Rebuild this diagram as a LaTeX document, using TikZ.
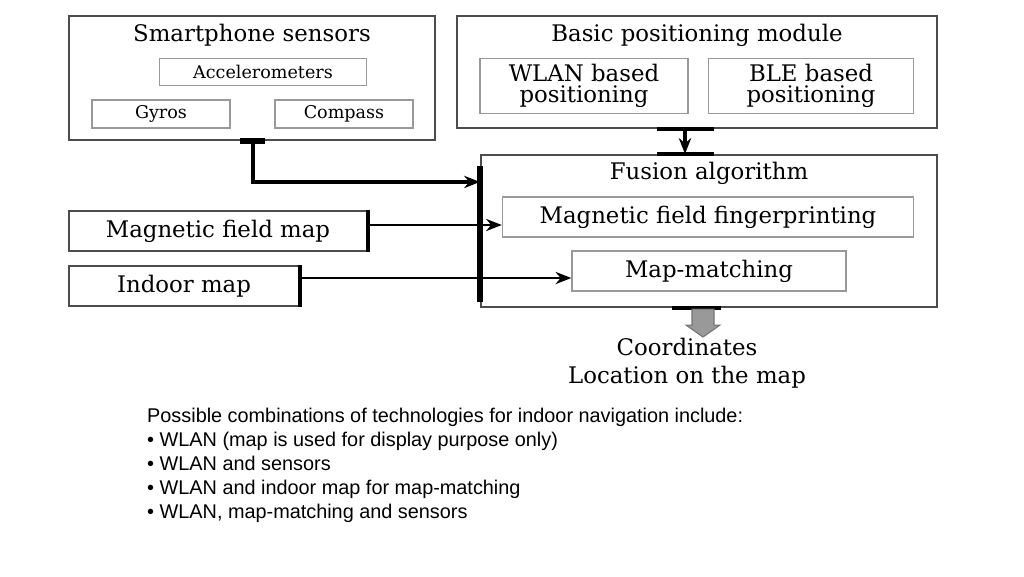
\documentclass[tikz,border=0pt]{standalone}
\usepackage{fontspec}
\setmainfont{DejaVu Serif}
\newfontfamily\sansfont{Liberation Sans}
\usetikzlibrary{positioning, calc, arrows.meta}
\tikzset{box/.style={draw=black!70, line width=1.2pt, inner sep=0pt}}
\tikzset{subbox/.style={draw=black!40, line width=0.8pt, fill=white, inner sep=0pt, font=\fontsize{10}{11}\selectfont}}
\tikzset{title/.style={font=\fontsize{13}{14}\selectfont}}
\tikzset{big/.style={font=\fontsize{13}{14}\selectfont}}
\tikzset{flow/.style={line width=1pt, -{Stealth[length=9pt, width=7pt]}}}
\tikzset{tee/.style={line width=3pt}}

\begin{document}
\begin{tikzpicture}[x=0.02cm, y=-0.02cm]
      \useasboundingbox (0,0) rectangle (1024,576);

      % sensor block
      \node[box, minimum width=366*0.02cm, minimum height=124*0.02cm] (sens) at (252,78) {};
      \node[title] (senst) at (252,35) {Smartphone sensors};
      \node[subbox, minimum width=207*0.02cm, minimum height=27*0.02cm] (acc) at (263,72) {Accelerometers};
      \node[subbox, minimum width=138*0.02cm, minimum height=28*0.02cm] (gyro) at (161,114) {Gyros};
      \node[subbox, minimum width=138*0.02cm, minimum height=28*0.02cm] (comp) at (344,114) {Compass};

      % basic positioning module
      \node[box, minimum width=480*0.02cm, minimum height=112*0.02cm] (basic) at (697,72) {};
      \node[title] (basict) at (697,35) {Basic positioning module};
      \node[subbox, big, align=center, minimum width=208*0.02cm, minimum height=55*0.02cm] (wlan) at (584,86) {WLAN based\\[-2pt]positioning};
      \node[subbox, big, align=center, minimum width=205*0.02cm, minimum height=55*0.02cm] (ble) at (811,86) {BLE based\\[-2pt]positioning};

      % fusion
      \node[box, minimum width=456*0.02cm, minimum height=152*0.02cm] (fus) at (709,231) {};
      \node[title] (fust) at (709,173) {Fusion algorithm};
      \node[subbox, big, minimum width=411*0.02cm, minimum height=40*0.02cm] (mff) at (708,217) {Magnetic field fingerprinting};
      \node[subbox, big, minimum width=274*0.02cm, minimum height=40*0.02cm] (mm) at (709,271) {Map-matching};

      % inputs
      \node[box, big, minimum width=298*0.02cm, minimum height=40*0.02cm] (mag) at (218,231) {Magnetic field map};
      \node[box, big, minimum width=230*0.02cm, minimum height=40*0.02cm] (ind) at (184,286) {Indoor map};

      % output
      \node[big, align=center] (out) at (687,363) {Coordinates\\[2pt]Location on the map};

      % connectors
      \coordinate (sin) at ($(fus.north west)+(0,28)$);
      \draw[tee] ($(sens.south)+(-12,0)$) -- ++(25,0);
      \draw[tee] (fus.north west) ++(0,12) -- ++(0,136);
      \draw[flow, line width=2.5pt] (sens.south) ++(1,0) |- (sin);
      \draw[tee, line width=2pt] (mag.north east) -- (mag.south east);
      \draw[flow] (mag.east |- mff.west) ++(0,8) -- ($(mff.west)+(0,8)$);
      \draw[tee, line width=2pt] (ind.north east) -- (ind.south east);
      \draw[flow] (ind.east |- mm.west) ++(0,7) -- ($(mm.west)+(0,7)$);
      \draw[tee, line width=2pt] ($(basic.south)+(-40,0)$) -- ++(57,0);
      \draw[tee, line width=2pt] ($(fus.north)+(-52,0)$) -- ++(57,0);
      \draw[flow, line width=2pt] ($(basic.south)+(-12,0)$) -- ($(fus.north)+(-24,0)$);
      \draw[tee, line width=2pt] ($(fus.south)+(-37,0)$) -- ++(49,0);
      \draw[draw=black!55, fill=black!40, line width=0.6pt] ($(fus.south)+(-17,1)$) -- ++(0,16) -- ++(-6,0) -- ++(17,12) -- ++(17,-12) -- ++(-6,0) -- ++(0,-16) -- cycle;

      % note
      \node[font=\sansfont\fontsize{11.3}{13.6}\selectfont, align=left, anchor=north west] (note) at (141,402) {Possible combinations of technologies for indoor navigation include:\\
      \textbullet\ WLAN (map is used for display purpose only)\\
      \textbullet\ WLAN and sensors\\
      \textbullet\ WLAN and indoor map for map-matching\\
      \textbullet\ WLAN, map-matching and sensors};
\end{tikzpicture}
\end{document}
